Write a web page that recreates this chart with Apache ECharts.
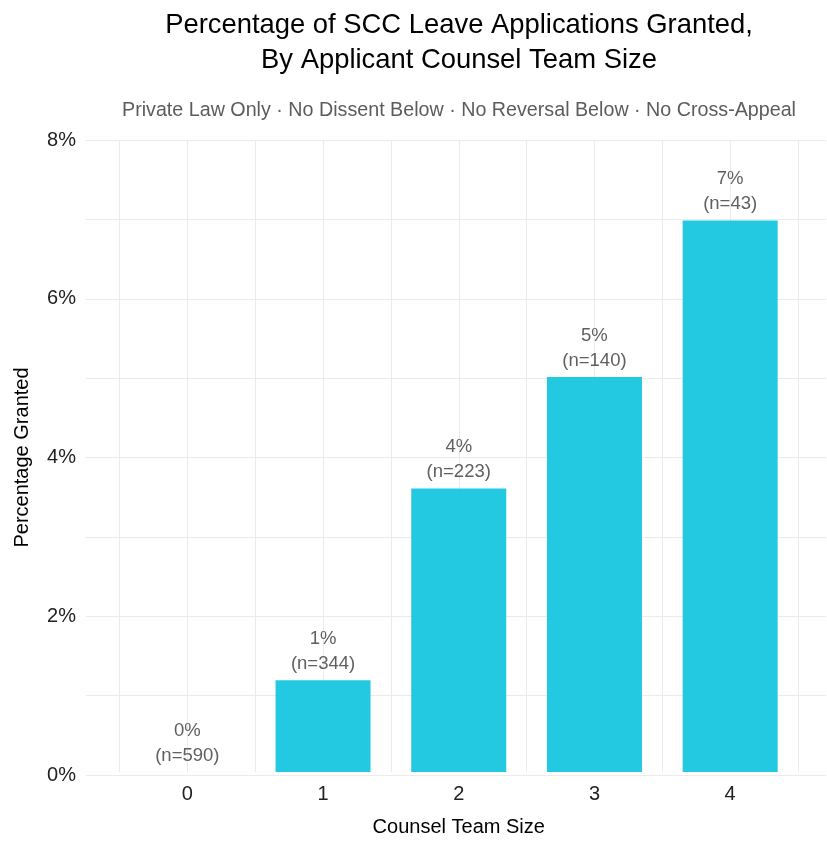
<!DOCTYPE html>
<html>
<head>
<meta charset="utf-8">
<script src="https://cdn.jsdelivr.net/npm/echarts@6/dist/echarts.min.js"></script>
<style>html,body{margin:0;padding:0;background:#fff;}#chart{width:827px;height:842px;}</style>
</head>
<body>
<div id="chart"></div>
<script>
var categories = [0, 1, 2, 3, 4];
var pctGranted = [0, 1.16, 3.59, 5.0, 6.98];
var nApps = [590, 344, 223, 140, 43];
var yTicks = [0, 2, 4, 6, 8];

var FONT = 'Liberation Sans, Arial, sans-serif';
var chart = echarts.init(document.getElementById('chart'));
var barData = categories.map(function (c, i) { return [c, pctGranted[i]]; });

chart.setOption({
  animation: false,
  backgroundColor: '#fff',
  title: [{
    text: 'Percentage of SCC Leave Applications Granted,\nBy Applicant Counsel Team Size',
    left: 454, top: 3, textAlign: 'center',
    textStyle: { fontFamily: FONT, fontSize: 27.4, fontWeight: 'normal', color: '#000', lineHeight: 35 }
  }, {
    text: 'Private Law Only · No Dissent Below · No Reversal Below · No Cross-Appeal',
    left: 454, top: 96, textAlign: 'center',
    textStyle: { fontFamily: FONT, fontSize: 19.7, fontWeight: 'normal', color: '#5c5c5c' }
  }],
  grid: [
    { left: 86, right: 1, top: 140, bottom: 67 },
    { left: 119.5, right: 29, top: 140, bottom: 67 }
  ],
  xAxis: [{
    gridIndex: 0, type: 'value', min: 0, max: 1, show: false
  }, {
    gridIndex: 1, type: 'value', min: -0.5, max: 4.5, interval: 0.5,
    axisLine: { show: false }, axisTick: { show: false },
    splitLine: { show: true, lineStyle: { color: '#ebebeb', width: 1 } },
    axisLabel: {
      margin: 12, fontFamily: FONT, fontSize: 20, color: '#222',
      formatter: function (v) { return Number.isInteger(v) ? String(v) : ''; }
    },
    name: 'Counsel Team Size', nameLocation: 'middle', nameGap: 45,
    nameTextStyle: { fontFamily: FONT, fontSize: 20, color: '#000' }
  }],
  yAxis: [{
    gridIndex: 0, type: 'value', min: yTicks[0], max: yTicks[yTicks.length - 1], interval: 2,
    axisLine: { show: false }, axisTick: { show: false },
    axisLabel: { margin: 10, fontFamily: FONT, fontSize: 20, color: '#222', formatter: '{value}%' },
    splitLine: { show: true, lineStyle: { color: '#ebebeb', width: 1.2 } },
    minorTick: { show: false, splitNumber: 2 },
    minorSplitLine: { show: true, lineStyle: { color: '#ebebeb', width: 1 } },
    name: 'Percentage Granted', nameLocation: 'middle', nameGap: 54,
    nameTextStyle: { fontFamily: FONT, fontSize: 20, color: '#000' }
  }, {
    gridIndex: 1, type: 'value', min: yTicks[0], max: yTicks[yTicks.length - 1], show: false
  }],
  series: [{
    type: 'bar', xAxisIndex: 1, yAxisIndex: 1,
    data: barData, barWidth: 95,
    itemStyle: { color: '#23c8e1' },
    label: {
      show: true, position: 'top', distance: 4,
      fontFamily: FONT, fontSize: 18.5, color: '#606060', lineHeight: 25, align: 'center',
      formatter: function (p) {
        var i = p.dataIndex;
        return Math.round(pctGranted[i]) + '%\n(n=' + nApps[i] + ')';
      }
    }
  }]
});
</script>
</body>
</html>
